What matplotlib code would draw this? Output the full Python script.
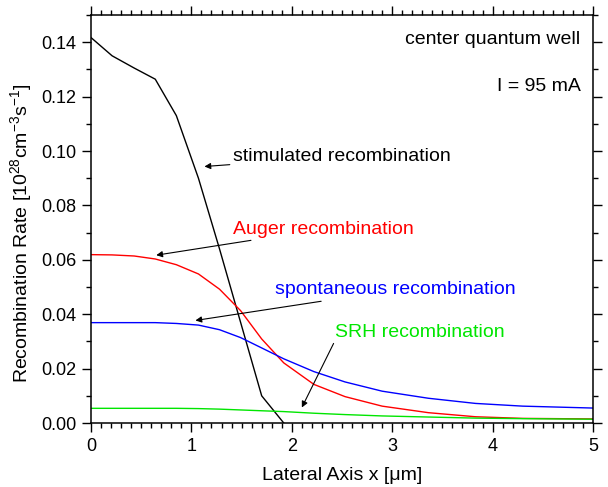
import matplotlib
matplotlib.use("Agg")
import matplotlib.pyplot as plt
from matplotlib.ticker import MultipleLocator, FormatStrFormatter

plt.rcParams['font.family'] = ['Liberation Sans', 'DejaVu Sans']
plt.rcParams['mathtext.fontset'] = 'custom'
plt.rcParams['mathtext.rm'] = 'Liberation Sans'
plt.rcParams['mathtext.it'] = 'Liberation Sans:italic'

# Lateral mesh positions [um]
x = [0.0, 0.21, 0.43, 0.64, 0.85, 1.07, 1.28, 1.49, 1.70, 1.92,
     2.22, 2.53, 2.90, 3.36, 3.83, 4.30, 5.0]

# Recombination rates [1e28 cm^-3 s^-1]
stimulated = [0.1417, 0.1350, 0.1305, 0.1264, 0.1130, 0.0900, 0.0640,
              0.0370, 0.0100, 0.0]
auger = [0.0619, 0.0618, 0.0614, 0.0603, 0.0582, 0.0548, 0.0492, 0.0413,
         0.0309, 0.0221, 0.0142, 0.0097, 0.0062, 0.0038, 0.0023, 0.0017, 0.0015]
spontaneous = [0.0369, 0.0369, 0.0369, 0.0369, 0.0366, 0.0360, 0.0343, 0.0314,
               0.0276, 0.0236, 0.0189, 0.0151, 0.0117, 0.0091, 0.0072, 0.0062, 0.0055]
srh = [0.0054, 0.0054, 0.0054, 0.0054, 0.0054, 0.0053, 0.0051, 0.0048,
       0.0045, 0.0042, 0.0036, 0.0031, 0.0026, 0.0022, 0.0018, 0.0016, 0.0014]

GREEN = '#00e600'

fig = plt.figure(figsize=(6.08, 4.87), dpi=100)
ax = fig.add_axes([0.1497, 0.1314, 0.8256, 0.8378])

lw = 1.0
ax.plot(x[:len(stimulated)], stimulated, color='black', lw=lw)
ax.plot(x, auger, color='#ff0000', lw=lw)
ax.plot(x, spontaneous, color='#0000ff', lw=lw)
ax.plot(x, srh, color=GREEN, lw=lw)

ax.set_xlim(0, 5)
ax.set_ylim(0, 0.15)
ax.xaxis.set_major_locator(MultipleLocator(1))
ax.xaxis.set_minor_locator(MultipleLocator(0.1))
ax.yaxis.set_major_locator(MultipleLocator(0.02))
ax.yaxis.set_minor_locator(MultipleLocator(0.01))
ax.yaxis.set_major_formatter(FormatStrFormatter('%.2f'))

ax.tick_params(which='both', direction='out', top=True, right=True,
               labeltop=False, labelright=False, width=1.0, labelsize=13,
               color='black')
ax.tick_params(which='major', length=6.5, pad=4)
ax.tick_params(which='minor', length=3.5)
for s in ax.spines.values():
    s.set_linewidth(1.1)

ax.set_xlabel('Lateral Axis x [μm]', fontsize=14, labelpad=9)
ax.set_ylabel('Recombination Rate [10$^{28}$cm$^{-3}$s$^{-1}$]', fontsize=14)
ax.yaxis.set_label_coords(-0.114, 0.466)

fs = 14
ax.text(0.975, 0.94, 'center quantum well', transform=ax.transAxes,
        ha='right', va='center', fontsize=fs)
ax.text(0.975, 0.825, 'I = 95 mA', transform=ax.transAxes,
        ha='right', va='center', fontsize=fs)

arrow = dict(arrowstyle='-|>', color='black', lw=0.8,
             mutation_scale=9, shrinkA=0, shrinkB=0)
ax.annotate('stimulated recombination', xy=(1.13, 0.0943), xytext=(1.41, 0.0980),
            ha='left', va='center', fontsize=fs, color='black',
            arrowprops=arrow)
ax.annotate('Auger recombination', xy=(0.65, 0.0617), xytext=(1.41, 0.0713),
            ha='left', va='center', fontsize=fs, color='#ff0000',
            arrowprops=arrow)
ax.annotate('spontaneous recombination', xy=(1.04, 0.0377), xytext=(1.83, 0.0489),
            ha='left', va='center', fontsize=fs, color='#0000ff',
            arrowprops=arrow)
ax.annotate('SRH recombination', xy=(2.1, 0.0057), xytext=(2.43, 0.0334),
            ha='left', va='center', fontsize=fs, color=GREEN,
            arrowprops=dict(arrow, relpos=(0, 0)))

fig.savefig('out.png', dpi=100)
